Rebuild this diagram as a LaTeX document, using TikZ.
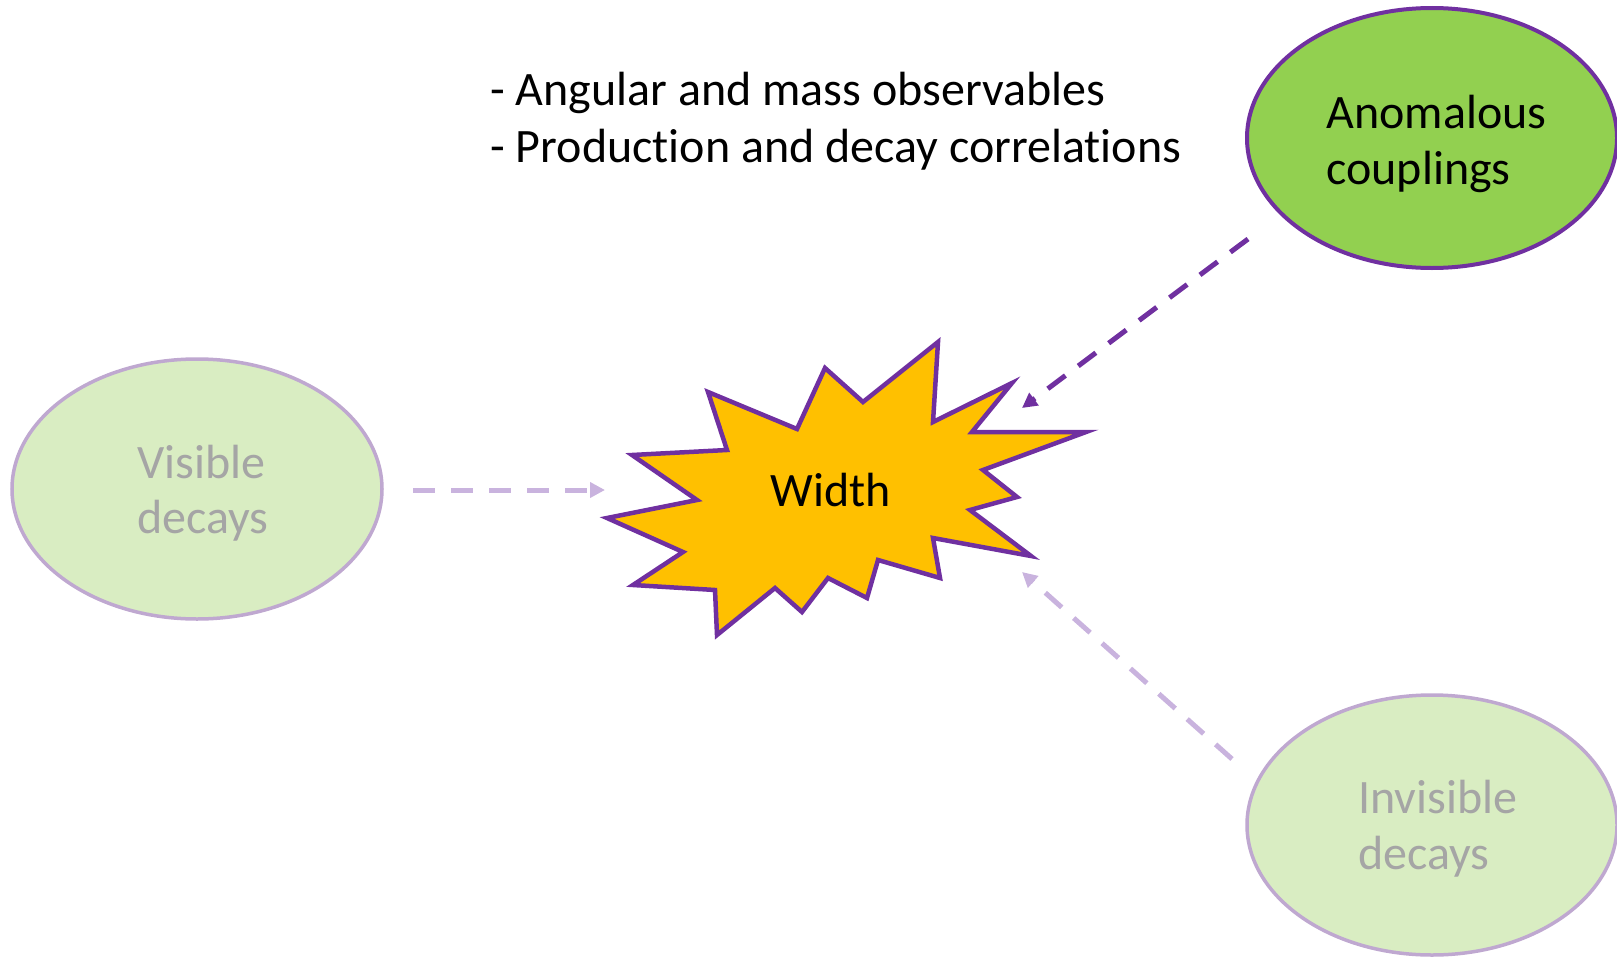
\documentclass[tikz,border=0pt]{standalone}
\usepackage{fontspec}
\setmainfont[Ligatures=NoCommon]{Carlito}
\usetikzlibrary{shapes.geometric,arrows.meta}
\definecolor{dpurple}{HTML}{7030A0}
\definecolor{lpurple}{HTML}{C9B3DE}
\definecolor{lstroke}{HTML}{BFA8D0}
\definecolor{dgreen}{HTML}{92D050}
\definecolor{lgreen}{HTML}{D9EDC2}
\definecolor{starfill}{HTML}{FFC000}
\definecolor{greytext}{HTML}{A5A5A5}
\begin{document}
\begin{tikzpicture}[x=0.5pt,y=-0.5pt,
  lbl/.style={anchor=base west, inner sep=0pt, font=\fontsize{24}{29}\selectfont},
  ell/.style={ellipse, inner sep=0pt, minimum width=185pt, minimum height=130pt},
  darkell/.style={ell, fill=dgreen, draw=dpurple, line width=2pt},
  lightell/.style={ell, fill=lgreen, draw=lstroke, line width=1.75pt},
  arr/.style={line width=2.5pt, dash pattern=on 11pt off 8pt, -{Triangle[length=7.5pt,width=7.5pt]}},
  darkarr/.style={arr, draw=dpurple},
  lightarr/.style={arr, draw=lpurple},
  burst/.style={fill=starfill, draw=dpurple, line width=2.25pt}]
\useasboundingbox (0,0) rectangle (1617,958);

% ellipses
\node[lightell] (vis) at (197,489) {};
\node[darkell] (ano) at (1432,138) {};
\node[lightell] (inv) at (1432,825) {};

% ellipse texts
\node[lbl, text=greytext] (vis1) at (137,478) {Visible};
\node[lbl, text=greytext] (vis2) at (137,533) {decays};
\node[lbl] (ano1) at (1326,128) {Anomalous};
\node[lbl] (ano2) at (1326,184) {couplings};
\node[lbl, text=greytext] (inv1) at (1358,813) {Invisible};
\node[lbl, text=greytext] (inv2) at (1358,869) {decays};

% top text
\node[lbl] (t1) at (490,105) {- Angular and mass observables};
\node[lbl] (t2) at (490,162) {- Production and decay correlations};

% star burst
\draw[burst] (708,392) -- (797,429) -- (825,368) -- (863,402) -- (938,342)
  -- (933,422) -- (1012,383) -- (972,432) -- (1086,432) -- (983,470)
  -- (1017,497) -- (970,510) -- (1031,556) -- (933,538) -- (940,578)
  -- (878,560) -- (867,598) -- (828,578) -- (802,612) -- (775,588)
  -- (717,635) -- (715,590) -- (633,585) -- (683,552) -- (607,518)
  -- (697,500) -- (632,455) -- (727,450) -- cycle;
\node[lbl] (w) at (770,506) {Width};

% arrow end points
\coordinate (vs) at (413,490);
\coordinate (ve) at (605,490);
\coordinate (as) at (1248,239);
\coordinate (ae) at (1022,408);
\coordinate (is) at (1232,759);
\coordinate (ie) at (1022,572);

\draw[lightarr] (vs) -- (ve);
\draw[darkarr] (as) -- (ae);
\draw[lightarr] (is) -- (ie);
\end{tikzpicture}
\end{document}
